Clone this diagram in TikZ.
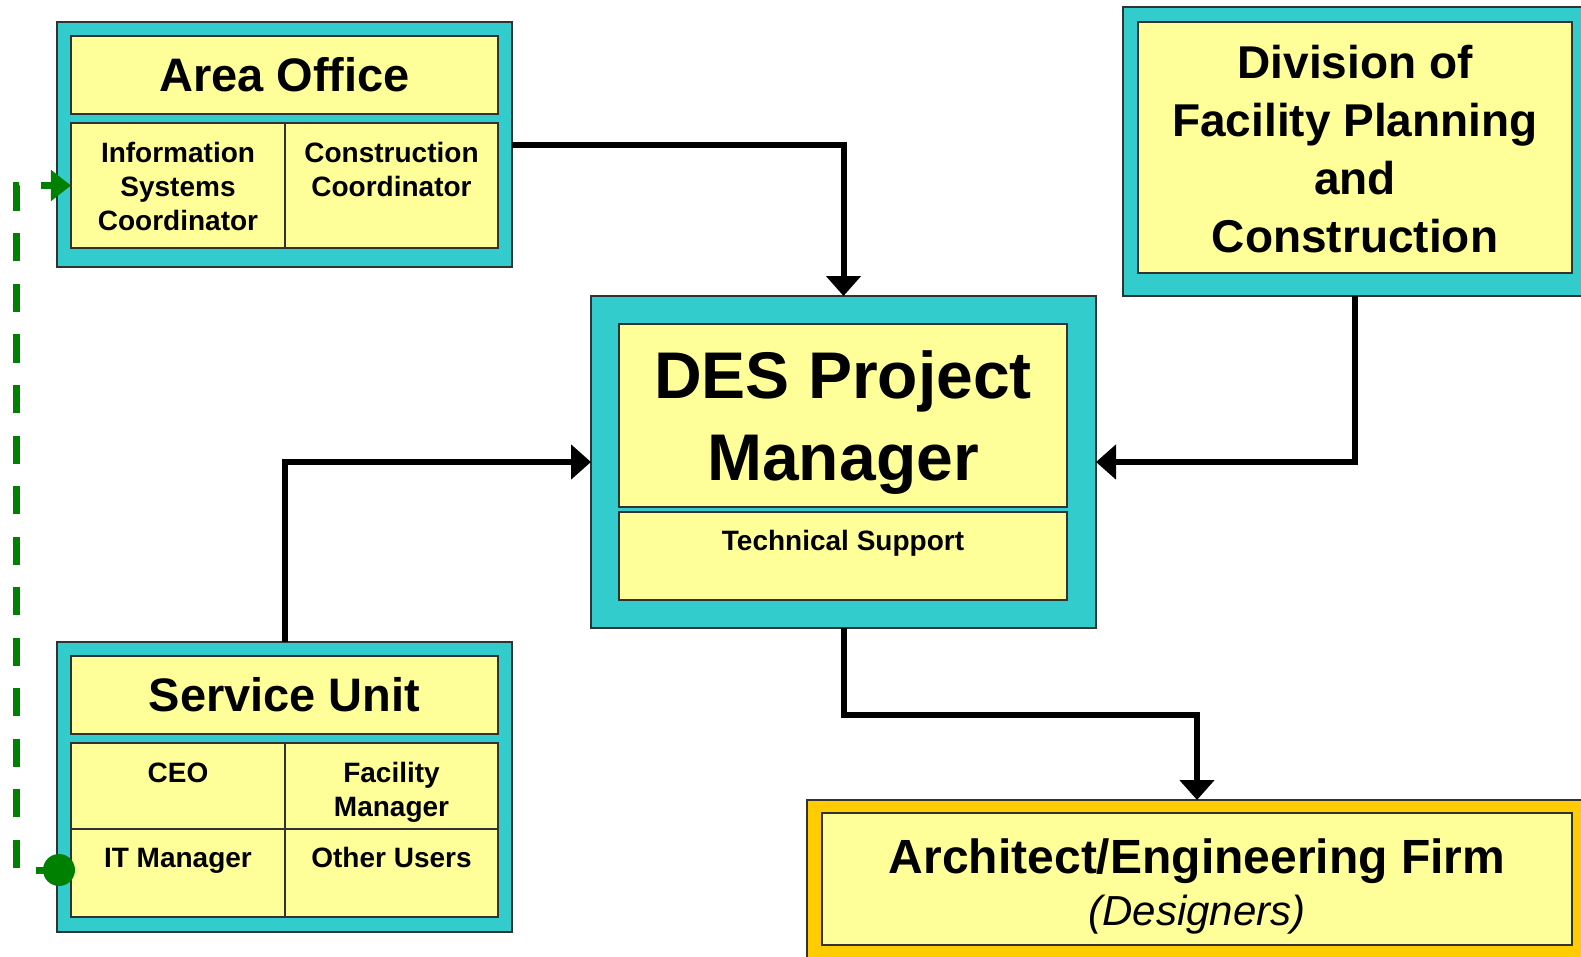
\documentclass[tikz,border=0pt]{standalone}
\usepackage{fontspec}
\setmainfont{Liberation Sans}
\usetikzlibrary{arrows.meta}

\definecolor{boxcyan}{RGB}{51,204,204}
\definecolor{boxyellow}{RGB}{255,255,153}
\definecolor{boxgold}{RGB}{255,204,0}
\definecolor{linkgreen}{RGB}{0,128,0}
\definecolor{edgegray}{RGB}{50,50,50}

\newcommand\fsz[2]{\fontsize{#1bp}{#2bp}\selectfont}

\begin{document}
\begin{tikzpicture}[x=1bp,y=-1bp,
  outerbox/.style={rectangle, draw=edgegray, line width=1.5bp, fill=boxcyan, inner sep=0pt, outer sep=0pt},
  goldbox/.style={outerbox, fill=boxgold},
  panel/.style={rectangle, draw=edgegray, line width=1.5bp, fill=boxyellow, inner sep=0pt, outer sep=0pt},
  title/.style={font=\bfseries\fsz{47}{56}},
  celltext/.style={font=\bfseries\fsz{28}{34}, align=center, anchor=base, inner sep=0pt},
  conn/.style={black, line width=6bp, -{Triangle[width=34bp,length=20bp]}},
  greenlink/.style={linkgreen, line width=7bp, dash pattern=on 28bp off 22.5bp, dash phase=5bp,
                    -{Triangle[width=30bp,length=20bp]}}
]
\useasboundingbox (0,0) rectangle (1581,956);

% Area Office (multi-line texts are placed by the baseline of their last line)
\node[outerbox, minimum width=455bp, minimum height=245bp] (ao) at (284.5,144.5) {};
\node[panel, title, minimum width=427bp, minimum height=78bp] (aotitle) at (284.5,75) {Area Office};
\node[panel, minimum width=214bp, minimum height=125bp] (info) at (178,185.5) {};
\node[panel, minimum width=213bp, minimum height=125bp] (cons) at (391.5,185.5) {};
\node[celltext] (infotext) at (178,230) {Information\\Systems\\Coordinator};
\node[celltext] (constext) at (391.5,196) {Construction\\Coordinator};

% Service Unit
\node[outerbox, minimum width=455bp, minimum height=290bp] (su) at (284.5,787) {};
\node[panel, title, minimum width=427bp, minimum height=78bp] (sutitle) at (284.5,695) {Service Unit};
\node[panel, minimum width=214bp, minimum height=86bp] (ceo) at (178,786) {};
\node[panel, minimum width=213bp, minimum height=86bp] (fm) at (391.5,786) {};
\node[panel, minimum width=214bp, minimum height=88bp] (itm) at (178,873) {};
\node[panel, minimum width=213bp, minimum height=88bp] (ou) at (391.5,873) {};
\node[celltext] (ceotext) at (178,782) {CEO};
\node[celltext] (fmtext) at (391.5,816) {Facility\\Manager};
\node[celltext] (itmtext) at (178,867) {IT Manager};
\node[celltext] (outext) at (391.5,867) {Other Users};

% DES Project Manager
\node[outerbox, minimum width=505bp, minimum height=332bp] (des) at (843.5,462) {};
\node[panel, minimum width=448bp, minimum height=183bp] (destitle) at (843,415.5) {};
\node[panel, minimum width=448bp, minimum height=88bp] (tech) at (843,556) {};
\node[font=\bfseries\fsz{66}{82}, align=center, anchor=base, inner sep=0pt] (destext) at (843,480) {DES Project\\Manager};
\node[celltext] (techtext) at (843,550) {Technical Support};

% Division of Facility Planning and Construction
\node[outerbox, minimum width=464bp, minimum height=289bp] (div) at (1355,151.5) {};
\node[panel, minimum width=434bp, minimum height=251bp] (divpanel) at (1355,147.5) {};
\node[font=\bfseries\fsz{46}{58}, align=center, anchor=base, inner sep=0pt] (divtext) at (1355,252) {Division of\\Facility Planning\\and\\Construction};

% Architect/Engineering Firm
\node[goldbox, minimum width=780bp, minimum height=165bp] (arch) at (1197,882.5) {};
\node[panel, minimum width=750bp, minimum height=132bp] (archpanel) at (1197,879) {};
\node[font=\bfseries\fsz{48}{58}, anchor=base, inner sep=0pt] (archtext) at (1197,873) {Architect/Engineering Firm};
\node[font=\itshape\fsz{42}{50}, anchor=base, inner sep=0pt] (archsub) at (1197,925) {(Designers)};

% Reporting lines
\draw[conn] (ao.east) -| (des.north);
\draw[conn] (su.north) |- (des.west);
\draw[conn] (div.south) |- (des.east);
\draw[conn] (des.south) -- ++(0,87) -| (arch.north);

% IT link from the IT Manager to the Information Systems Coordinator
\coordinate (gstart) at (59,870);
\draw[greenlink] (gstart) -- ++(-43,0) |- (info.west);
\fill[linkgreen] (gstart) circle[radius=16bp];
\end{tikzpicture}
\end{document}
